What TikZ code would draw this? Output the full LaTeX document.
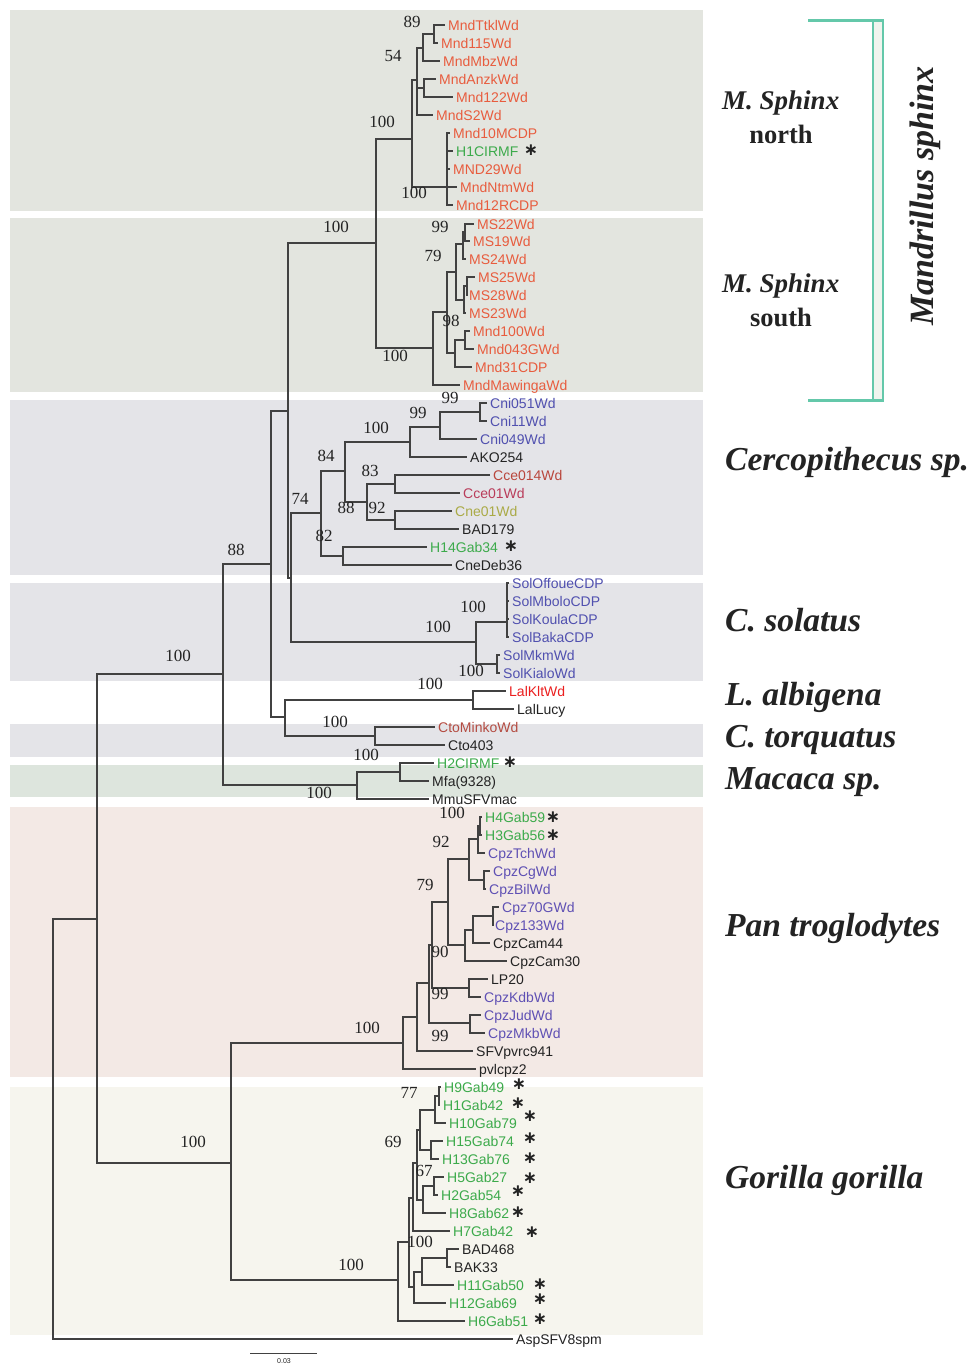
\documentclass[tikz,border=0pt]{standalone}
\usepackage{fontspec}
\setmainfont{Liberation Serif}
\newfontfamily\tipfont{Liberation Sans}
\newfontfamily\astfont{DejaVu Sans}
\definecolor{mndred}{RGB}{232,92,62}
\definecolor{tgreen}{RGB}{60,170,75}
\definecolor{tblue}{RGB}{80,80,175}
\definecolor{tpurple}{RGB}{95,80,180}
\definecolor{cceA}{RGB}{185,70,60}
\definecolor{cceB}{RGB}{185,60,90}
\definecolor{olivet}{RGB}{170,170,70}
\definecolor{lalred}{RGB}{235,30,30}
\definecolor{ctoc}{RGB}{180,75,65}
\definecolor{tblack}{RGB}{35,35,35}
\definecolor{linegray}{RGB}{65,65,65}
\definecolor{bgmnd}{RGB}{227,229,223}
\definecolor{bgcer}{RGB}{228,228,232}
\definecolor{bgmac}{RGB}{221,229,221}
\definecolor{bgpan}{RGB}{243,233,229}
\definecolor{bggor}{RGB}{246,245,238}
\definecolor{brk}{RGB}{100,200,170}
\definecolor{brkfill}{RGB}{240,244,238}
\newcommand{\tip}[5]{\node[tipst,text=#4] (#1) at (#2,#3) {#5};}
\newcommand{\bsl}[4]{\node[bsst] (#1) at (#2,#3) {#4};}
\newcommand{\astk}[3]{\node[astst] (#1) at (#2,#3) {∗};}
\newcommand{\kids}[2]{\foreach \k in {#2}{\draw[br] (#1) |- (\k);}}
\begin{document}
\begin{tikzpicture}[x=1pt,y=-1pt,
  br/.style={draw=linegray, line width=1.1pt},
  tipst/.style={anchor=west, inner xsep=3pt, inner ysep=0pt, text height=10pt, text depth=0pt, font=\tipfont\fontsize{14}{14}\selectfont},
  bsst/.style={inner sep=0pt, text=tblack, font=\fontsize{17}{17}\selectfont},
  astst/.style={inner sep=0pt, text=tblack, font=\astfont\bfseries\fontsize{17}{17}\selectfont},
  rl/.style={anchor=west, inner sep=0pt, text=tblack, font=\bfseries\itshape\fontsize{33.5}{33.5}\selectfont},
  rs/.style={inner sep=0pt, text=tblack, font=\bfseries\fontsize{26.5}{26.5}\selectfont}]
\useasboundingbox (0,0) rectangle (971,1365);
\fill[white] (0,0) rectangle (971,1365);
% background bands
\fill[bgmnd] (10,10) rectangle (703,211);
\fill[bgmnd] (10,218) rectangle (703,392);
\fill[bgcer] (10,400) rectangle (703,575);
\fill[bgcer] (10,583) rectangle (703,681);
\fill[bgcer] (10,724) rectangle (703,757);
\fill[bgmac] (10,765) rectangle (703,797);
\fill[bgpan] (10,807) rectangle (703,1077);
\fill[bggor] (10,1087) rectangle (703,1335);
% tips
\tip{t1}{445}{25}{mndred}{MndTtklWd}
\tip{t2}{438}{43}{mndred}{Mnd115Wd}
\tip{t3}{440}{61}{mndred}{MndMbzWd}
\tip{t4}{436}{79}{mndred}{MndAnzkWd}
\tip{t5}{453}{97}{mndred}{Mnd122Wd}
\tip{t6}{433}{115}{mndred}{MndS2Wd}
\tip{t7}{450}{133}{mndred}{Mnd10MCDP}
\tip{t8}{453}{151}{tgreen}{H1CIRMF}
\tip{t9}{450}{169}{mndred}{MND29Wd}
\tip{t10}{457}{187}{mndred}{MndNtmWd}
\tip{t11}{453}{205}{mndred}{Mnd12RCDP}
\tip{t12}{474}{224}{mndred}{MS22Wd}
\tip{t13}{470}{241}{mndred}{MS19Wd}
\tip{t14}{466}{259}{mndred}{MS24Wd}
\tip{t15}{475}{277}{mndred}{MS25Wd}
\tip{t16}{466}{295}{mndred}{MS28Wd}
\tip{t17}{466}{313}{mndred}{MS23Wd}
\tip{t18}{470}{331}{mndred}{Mnd100Wd}
\tip{t19}{474}{349}{mndred}{Mnd043GWd}
\tip{t20}{472}{367}{mndred}{Mnd31CDP}
\tip{t21}{460}{385}{mndred}{MndMawingaWd}
\tip{t22}{487}{403}{tblue}{Cni051Wd}
\tip{t23}{487}{421}{tblue}{Cni11Wd}
\tip{t24}{477}{439}{tblue}{Cni049Wd}
\tip{t25}{467}{457}{tblack}{AKO254}
\tip{t26}{490}{475}{cceA}{Cce014Wd}
\tip{t27}{460}{493}{cceB}{Cce01Wd}
\tip{t28}{452}{511}{olivet}{Cne01Wd}
\tip{t29}{459}{529}{tblack}{BAD179}
\tip{t30}{427}{547}{tgreen}{H14Gab34}
\tip{t31}{452}{565}{tblack}{CneDeb36}
\tip{t32}{509}{583}{tblue}{SolOffoueCDP}
\tip{t33}{509}{601}{tblue}{SolMboloCDP}
\tip{t34}{509}{619}{tblue}{SolKoulaCDP}
\tip{t35}{509}{637}{tblue}{SolBakaCDP}
\tip{t36}{500}{655}{tblue}{SolMkmWd}
\tip{t37}{500}{673}{tblue}{SolKialoWd}
\tip{t38}{506}{691}{lalred}{LalKltWd}
\tip{t39}{514}{709}{tblack}{LalLucy}
\tip{t40}{435}{727}{ctoc}{CtoMinkoWd}
\tip{t41}{445}{745}{tblack}{Cto403}
\tip{t42}{434}{763}{tgreen}{H2CIRMF}
\tip{t43}{429}{781}{tblack}{Mfa(9328)}
\tip{t44}{429}{799}{tblack}{MmuSFVmac}
\tip{t45}{482}{817}{tgreen}{H4Gab59}
\tip{t46}{482}{835}{tgreen}{H3Gab56}
\tip{t47}{485}{853}{tpurple}{CpzTchWd}
\tip{t48}{490}{871}{tpurple}{CpzCgWd}
\tip{t49}{486}{889}{tpurple}{CpzBilWd}
\tip{t50}{499}{907}{tpurple}{Cpz70GWd}
\tip{t51}{492}{925}{tpurple}{Cpz133Wd}
\tip{t52}{490}{943}{tblack}{CpzCam44}
\tip{t53}{507}{961}{tblack}{CpzCam30}
\tip{t54}{488}{979}{tblack}{LP20}
\tip{t55}{481}{997}{tpurple}{CpzKdbWd}
\tip{t56}{481}{1015}{tpurple}{CpzJudWd}
\tip{t57}{485}{1033}{tpurple}{CpzMkbWd}
\tip{t58}{473}{1051}{tblack}{SFVpvrc941}
\tip{t59}{476}{1069}{tblack}{pvlcpz2}
\tip{t60}{441}{1087}{tgreen}{H9Gab49}
\tip{t61}{440}{1105}{tgreen}{H1Gab42}
\tip{t62}{446}{1123}{tgreen}{H10Gab79}
\tip{t63}{443}{1141}{tgreen}{H15Gab74}
\tip{t64}{439}{1159}{tgreen}{H13Gab76}
\tip{t65}{444}{1177}{tgreen}{H5Gab27}
\tip{t66}{438}{1195}{tgreen}{H2Gab54}
\tip{t67}{446}{1213}{tgreen}{H8Gab62}
\tip{t68}{450}{1231}{tgreen}{H7Gab42}
\tip{t69}{459}{1249}{tblack}{BAD468}
\tip{t70}{451}{1267}{tblack}{BAK33}
\tip{t71}{454}{1285}{tgreen}{H11Gab50}
\tip{t72}{446}{1303}{tgreen}{H12Gab69}
\tip{t73}{465}{1321}{tgreen}{H6Gab51}
\tip{t74}{513}{1339}{tblack}{AspSFV8spm}
% internal nodes
\coordinate (a1) at (434,34);
\coordinate (a2) at (423,48);
\coordinate (a3) at (424,88);
\coordinate (a4) at (417,80);
\coordinate (b) at (447,187);
\coordinate (N) at (412,139);
\coordinate (s1) at (465,232);
\coordinate (s2) at (463,244);
\coordinate (s3) at (467,286);
\coordinate (s4) at (464,300);
\coordinate (s5) at (456,272);
\coordinate (s6) at (465,340);
\coordinate (s7) at (455,353);
\coordinate (s8) at (447,312);
\coordinate (S) at (433,348);
\coordinate (M) at (376,243);
\coordinate (c1) at (480,412);
\coordinate (c2) at (440,427);
\coordinate (c3) at (410,442);
\coordinate (c4) at (395,484);
\coordinate (c5) at (395,520);
\coordinate (c6) at (367,502);
\coordinate (c7) at (345,471);
\coordinate (c8) at (343,556);
\coordinate (c9) at (321,513);
\coordinate (so1) at (507,622);
\coordinate (so2) at (497,664);
\coordinate (so3) at (476,642);
\coordinate (P2) at (291,578);
\coordinate (P1) at (288,411);
\coordinate (l1) at (473,700);
\coordinate (q1) at (375,736);
\coordinate (lq) at (285,717);
\coordinate (P0) at (271,564);
\coordinate (m1) at (400,772);
\coordinate (m2) at (357,785);
\coordinate (OWM) at (223,674);
\coordinate (p1) at (480,826);
\coordinate (p2) at (478,839);
\coordinate (p3) at (484,880);
\coordinate (p4) at (469,859);
\coordinate (p5) at (493,916);
\coordinate (p6) at (473,930);
\coordinate (p7) at (465,945);
\coordinate (p8) at (448,902);
\coordinate (p9) at (469,988);
\coordinate (p10) at (432,945);
\coordinate (p11) at (470,1023);
\coordinate (p12) at (429,983);
\coordinate (p13) at (417,1017);
\coordinate (p14) at (403,1043);
\coordinate (g1) at (439,1096);
\coordinate (g2) at (435,1110);
\coordinate (g3) at (431,1150);
\coordinate (g4) at (420,1130);
\coordinate (g5) at (434,1186);
\coordinate (g6) at (423,1200);
\coordinate (g7) at (417,1163);
\coordinate (g8) at (413,1198);
\coordinate (g9) at (447,1258);
\coordinate (g10) at (422,1272);
\coordinate (g11) at (414,1287);
\coordinate (g12) at (409,1242);
\coordinate (g13) at (398,1280);
\coordinate (ape) at (231,1163);
\coordinate (anc) at (97,919);
\coordinate (root) at (53,1129);
% branches
\kids{a1}{t1.west,t2.west}
\kids{a2}{a1,t3.west}
\kids{a3}{t4.west,t5.west}
\kids{a4}{a2,a3,t6.west}
\kids{b}{t7.west,t8.west,t9.west,t10.west,t11.west}
\kids{N}{a4,b}
\kids{s1}{t12.west,t13.west}
\kids{s2}{s1,t14.west}
\kids{s3}{t15.west,t16.west}
\kids{s4}{s3,t17.west}
\kids{s5}{s2,s4}
\kids{s6}{t18.west,t19.west}
\kids{s7}{s6,t20.west}
\kids{s8}{s5,s7}
\kids{S}{s8,t21.west}
\kids{M}{N,S}
\kids{c1}{t22.west,t23.west}
\kids{c2}{c1,t24.west}
\kids{c3}{c2,t25.west}
\kids{c4}{t26.west,t27.west}
\kids{c5}{t28.west,t29.west}
\kids{c6}{c4,c5}
\kids{c7}{c3,c6}
\kids{c8}{t30.west,t31.west}
\kids{c9}{c7,c8}
\kids{so1}{t32.west,t33.west,t34.west,t35.west}
\kids{so2}{t36.west,t37.west}
\kids{so3}{so1,so2}
\kids{P2}{c9,so3}
\kids{P1}{M,P2}
\kids{l1}{t38.west,t39.west}
\kids{q1}{t40.west,t41.west}
\kids{lq}{l1,q1}
\kids{P0}{P1,lq}
\kids{m1}{t42.west,t43.west}
\kids{m2}{m1,t44.west}
\kids{OWM}{P0,m2}
\kids{p1}{t45.west,t46.west}
\kids{p2}{p1,t47.west}
\kids{p3}{t48.west,t49.west}
\kids{p4}{p2,p3}
\kids{p5}{t50.west,t51.west}
\kids{p6}{p5,t52.west}
\kids{p7}{p6,t53.west}
\kids{p8}{p4,p7}
\kids{p9}{t54.west,t55.west}
\kids{p10}{p8,p9}
\kids{p11}{t56.west,t57.west}
\kids{p12}{p10,p11}
\kids{p13}{p12,t58.west}
\kids{p14}{p13,t59.west}
\kids{g1}{t60.west,t61.west}
\kids{g2}{g1,t62.west}
\kids{g3}{t63.west,t64.west}
\kids{g4}{g2,g3}
\kids{g5}{t65.west,t66.west}
\kids{g6}{g5,t67.west}
\kids{g7}{g4,g6}
\kids{g8}{g7,t68.west}
\kids{g9}{t69.west,t70.west}
\kids{g10}{g9,t71.west}
\kids{g11}{g10,t72.west}
\kids{g12}{g8,g11}
\kids{g13}{g12,t73.west}
\kids{ape}{p14,g13}
\kids{anc}{OWM,ape}
\kids{root}{anc,t74.west}
% bootstrap values
\bsl{b1}{412}{22}{89}
\bsl{b2}{393}{56}{54}
\bsl{b3}{382}{122}{100}
\bsl{b4}{414}{193}{100}
\bsl{b5}{336}{227}{100}
\bsl{b6}{440}{227}{99}
\bsl{b7}{433}{256}{79}
\bsl{b8}{451}{321}{98}
\bsl{b9}{395}{356}{100}
\bsl{b10}{450}{398}{99}
\bsl{b11}{418}{413}{99}
\bsl{b12}{376}{428}{100}
\bsl{b13}{326}{456}{84}
\bsl{b14}{370}{471}{83}
\bsl{b15}{300}{499}{74}
\bsl{b16}{346}{508}{88}
\bsl{b17}{377}{508}{92}
\bsl{b18}{324}{536}{82}
\bsl{b19}{236}{550}{88}
\bsl{b20}{473}{607}{100}
\bsl{b21}{438}{627}{100}
\bsl{b22}{178}{656}{100}
\bsl{b23}{471}{671}{100}
\bsl{b24}{430}{684}{100}
\bsl{b25}{335}{722}{100}
\bsl{b26}{366}{755}{100}
\bsl{b27}{319}{793}{100}
\bsl{b28}{452}{813}{100}
\bsl{b29}{441}{842}{92}
\bsl{b30}{425}{885}{79}
\bsl{b31}{440}{952}{90}
\bsl{b32}{440}{994}{99}
\bsl{b33}{440}{1036}{99}
\bsl{b34}{367}{1028}{100}
\bsl{b35}{409}{1093}{77}
\bsl{b36}{393}{1142}{69}
\bsl{b37}{193}{1142}{100}
\bsl{b38}{424}{1171}{67}
\bsl{b39}{420}{1242}{100}
\bsl{b40}{351}{1265}{100}
% asterisks
\astk{k1}{531}{150}
\astk{k2}{511}{546}
\astk{k3}{510}{762}
\astk{k4}{553}{817}
\astk{k5}{553}{835}
\astk{k6}{519}{1084}
\astk{k7}{518}{1103}
\astk{k8}{530}{1116}
\astk{k9}{530}{1138}
\astk{k10}{530}{1158}
\astk{k11}{530}{1178}
\astk{k12}{518}{1191}
\astk{k13}{518}{1212}
\astk{k14}{532}{1232}
\astk{k15}{540}{1284}
\astk{k16}{540}{1299}
\astk{k17}{540}{1319}
% scale bar
\coordinate (sb1) at (250,1353);
\coordinate (sb2) at (317,1353);
\draw[br, line width=1pt] (sb1) -- (sb2);
\node[inner sep=0pt, text=tblack, font=\tipfont\fontsize{7}{7}\selectfont] (sbl) at (284,1361) {0.03};
% right-hand group labels
\node[inner sep=0pt, anchor=west, text=tblack, font=\bfseries\itshape\fontsize{27}{27}\selectfont] (ln1) at (722,103) {M. Sphinx};
\node[rs] (ln2) at (781,134) {north};
\node[inner sep=0pt, anchor=west, text=tblack, font=\bfseries\itshape\fontsize{27}{27}\selectfont] (ls1) at (722,286) {M. Sphinx};
\node[rs] (ls2) at (781,317) {south};
\node[inner sep=0pt, rotate=90, text=tblack, font=\bfseries\itshape\fontsize{34}{34}\selectfont] (lmand) at (925,196) {Mandrillus sphinx};
\node[rl] (lcer) at (725,462) {Cercopithecus sp.};
\node[rl] (lsol) at (725,620) {C. solatus};
\node[rl] (lalb) at (725,697) {L. albigena};
\node[rl] (ltor) at (725,740) {C. torquatus};
\node[rl] (lmac) at (725,782) {Macaca sp.};
\node[rl] (lpan) at (725,928) {Pan troglodytes};
\node[rl] (lgor) at (725,1180) {Gorilla gorilla};
% bracket
\coordinate (bk1) at (808,20);
\coordinate (bk2) at (884,20);
\coordinate (bk3) at (808,400);
\coordinate (bk4) at (884,400);
\filldraw[fill=brkfill, draw=brk, line width=1.3pt] (873,20) rectangle (883,400);
\draw[brk, line width=3pt] (bk1) -- (bk2);
\draw[brk, line width=3pt] (bk3) -- (bk4);
\end{tikzpicture}
\end{document}
